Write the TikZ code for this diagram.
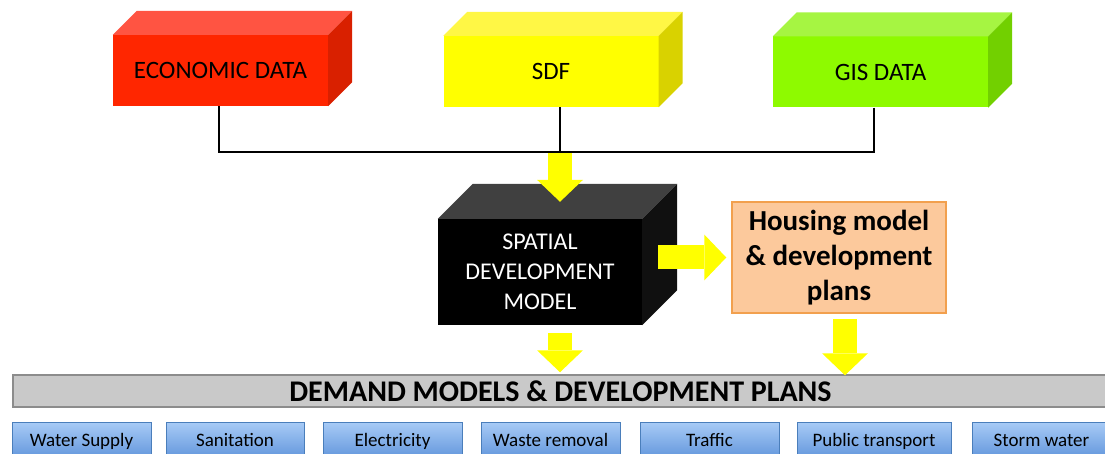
\documentclass[tikz,border=0pt]{standalone}
\usepackage{fontspec}
\setmainfont{Carlito}
\usetikzlibrary{arrows.meta}

\definecolor{ecofront}{HTML}{FF2600}
\definecolor{ecotop}{HTML}{FF5442}
\definecolor{ecoside}{HTML}{D92000}
\definecolor{sdffront}{HTML}{FFFF00}
\definecolor{sdftop}{HTML}{FFF745}
\definecolor{sdfside}{HTML}{D9D200}
\definecolor{gisfront}{HTML}{8EFA00}
\definecolor{gistop}{HTML}{A6F542}
\definecolor{gisside}{HTML}{72D000}
\definecolor{sdmtop}{HTML}{404040}
\definecolor{sdmside}{HTML}{101010}
\definecolor{housefill}{HTML}{FCC99C}
\definecolor{houseedge}{HTML}{F2A04E}
\definecolor{barfill}{HTML}{C9C9C9}
\definecolor{baredge}{HTML}{8C8C8C}
\definecolor{tabtop}{HTML}{A8CBF6}
\definecolor{tabbottom}{HTML}{5D92DA}
\definecolor{tabedge}{HTML}{4A7EBB}
\definecolor{arrowyellow}{HTML}{FFFF00}

% top and side faces of a block node: name, depth, top colour, side colour
\newcommand{\blockfaces}[4]{%
  \fill[#3] (#1.north west) -- ++(#2,-#2) -- ([shift={(#2,-#2)}]#1.north east) -- (#1.north east) -- cycle;
  \fill[#4] (#1.north east) -- ++(#2,-#2) -- ([shift={(#2,-#2)}]#1.south east) -- (#1.south east) -- cycle;
}

\begin{document}
\begin{tikzpicture}[x=1pt, y=-1pt,
    block/.style={minimum width=215pt, minimum height=71pt, inner sep=0pt, font=\fontsize{25}{30}\selectfont},
    link/.style={line width=2pt},
    bigarrow/.style={draw=arrowyellow, line width=24pt, -{Triangle[length=22pt,width=46pt,line width=0pt]}},
    tab/.style={draw=tabedge, top color=tabtop, bottom color=tabbottom, minimum height=39pt, inner sep=0pt,
        text height=13pt, text depth=4pt, font=\fontsize{19}{22}\selectfont}]
        \clip (0,0) rectangle (1105,454);

        % Draw the three data blocks
        \node[block, fill=ecofront] (eco) at (220.5,70.5) {ECONOMIC DATA};
        \node[block, fill=sdffront] (sdf) at (551,71.5) {SDF};
        \node[block, fill=gisfront] (gis) at (880.5,72) {GIS DATA};
        \blockfaces{eco}{24}{ecotop}{ecoside}
        \blockfaces{sdf}{24}{sdftop}{sdfside}
        \blockfaces{gis}{24}{gistop}{gisside}

        % Spatial development model and housing model
        \node[block, fill=black, text=white, minimum width=204pt, minimum height=106pt, align=center,
            font=\fontsize{24}{30}\selectfont] (sdm) at (540,272) {SPATIAL\\DEVELOPMENT\\MODEL};
        \blockfaces{sdm}{35}{sdmtop}{sdmside}
        \node[draw=houseedge, line width=1.5pt, fill=housefill, minimum width=214pt, minimum height=111pt, align=center,
            font=\bfseries\fontsize{29}{35}\selectfont] (house) at (839,257.5) {Housing model\\\& development\\plans};

        % Demand models bar and the services
        \node[draw=baredge, line width=1.5pt, fill=barfill, minimum width=1095pt, minimum height=32pt,
            font=\bfseries\fontsize{30}{36}\selectfont] (demand) at (560.5,391) {DEMAND MODELS \& DEVELOPMENT PLANS};
        \foreach \x/\w/\n/\t in {81.5/139/water/Water Supply, 235/138/sanit/Sanitation, 392.5/139/elec/Electricity,
            550.5/139/waste/Waste removal, 709.5/139/traffic/Traffic, 874/154/transp/Public transport, 1041.5/139/storm/Storm water}
            \node[tab, minimum width=\w pt] (\n) at (\x,441.5) {\t};

        % Yellow arrows
        \coordinate (hub) at (560,152);
        \draw[bigarrow] (hub) -- ([yshift=17pt]sdm.north -| hub);
        \draw[bigarrow] ([xshift=16pt]sdm.east |- house.west) -- ([xshift=-5pt]house.west);
        \draw[bigarrow] ([yshift=-8pt]sdm.south -| hub) -- ([yshift=2pt]demand.north -| hub);
        \draw[bigarrow] ([xshift=6pt,yshift=-5pt]house.south) -- ([xshift=6pt,yshift=-1pt]house.south |- demand.north);

        % Connect the data blocks
        \draw[link] ([xshift=-1.5pt]eco.south) |- (hub);
        \draw[link] ([xshift=9pt]sdf.south) -- (hub);
        \draw[link] ([xshift=-6.5pt]gis.south) |- (hub);
\end{tikzpicture}
\end{document}
